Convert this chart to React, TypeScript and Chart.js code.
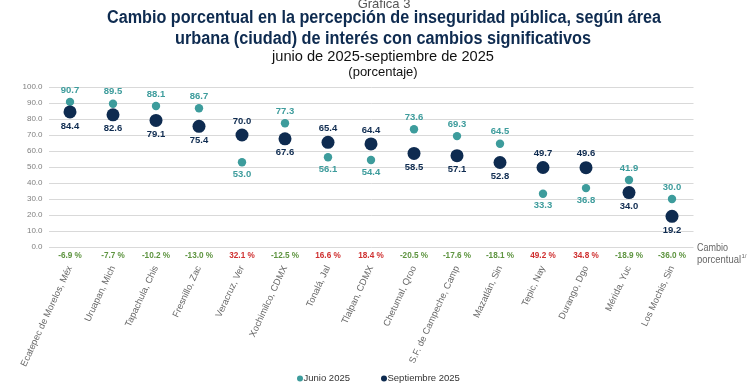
import React, { useEffect, useRef } from "react";
import { Chart, registerables } from "chart.js";

Chart.register(...registerables);

const categories = [
  "Ecatepec de Morelos, Méx",
  "Uruapan, Mich",
  "Tapachula, Chis",
  "Fresnillo, Zac",
  "Veracruz, Ver",
  "Xochimilco, CDMX",
  "Tonalá, Jal",
  "Tlalpan, CDMX",
  "Chetumal, Qroo",
  "S.F. de Campeche, Camp",
  "Mazatlán, Sin",
  "Tepic, Nay",
  "Durango, Dgo",
  "Mérida, Yuc",
  "Los Mochis, Sin",
];
const junio2025 = [90.7, 89.5, 88.1, 86.7, 53.0, 77.3, 56.1, 54.4, 73.6, 69.3, 64.5, 33.3, 36.8, 41.9, 30.0];
const septiembre2025 = [84.4, 82.6, 79.1, 75.4, 70.0, 67.6, 65.4, 64.4, 58.5, 57.1, 52.8, 49.7, 49.6, 34.0, 19.2];
const cambioPorcentual = [-6.9, -7.7, -10.2, -13.0, 32.1, -12.5, 16.6, 18.4, -20.5, -17.6, -18.1, 49.2, 34.8, -18.9, -36.0];

const titleGrafica = "Gráfica 3";
const titleLines = [
  "Cambio porcentual en la percepción de inseguridad pública, según área",
  "urbana (ciudad) de interés con cambios significativos",
];
const subtitle = "junio de 2025-septiembre de 2025";
const unitLabel = "(porcentaje)";
const seriesNames = ["Junio 2025", "Septiembre 2025"];
const yMin = 0;
const yMax = 100;
const yStep = 10;

const TEAL = "#3d9c9c";
const NAVY = "#0e2b50";
const GREEN = "#5e9440";
const RED = "#cf3030";
const FONT = "'Liberation Sans', Arial, sans-serif";

const overlayPlugin = {
  id: "overlay",
  afterDatasetsDraw(chart: any) {
    const ctx = chart.ctx;
    const x = chart.scales.x;
    const y = chart.scales.y;
    ctx.save();
    ctx.textAlign = "center";
    ctx.textBaseline = "middle";
    ctx.font = `bold 9.5px ${FONT}`;
    for (let i = 0; i < categories.length; i++) {
      const px = x.getPixelForValue(i);
      const j = junio2025[i];
      const s = septiembre2025[i];
      const jy = y.getPixelForValue(j);
      const sy = y.getPixelForValue(s);
      const jAbove = j >= s;
      ctx.fillStyle = TEAL;
      ctx.fillText(j.toFixed(1), px, jAbove ? jy - 12 : jy + 12);
      ctx.fillStyle = NAVY;
      ctx.fillText(s.toFixed(1), px, jAbove ? sy + 14 : sy - 14);
    }
    ctx.restore();
  },
  afterDraw(chart: any) {
    const ctx = chart.ctx;
    const x = chart.scales.x;
    const area = chart.chartArea;
    const cx = 384;
    ctx.save();
    ctx.textAlign = "center";
    ctx.textBaseline = "alphabetic";
    ctx.fillStyle = "#555555";
    ctx.font = `13px ${FONT}`;
    ctx.fillText(titleGrafica, cx, 8, 58);
    ctx.textBaseline = "middle";
    ctx.fillStyle = NAVY;
    ctx.font = `bold 18px ${FONT}`;
    ctx.fillText(titleLines[0], cx, 18, 554);
    ctx.fillText(titleLines[1], cx - 1, 39, 416);
    ctx.fillStyle = "#111111";
    ctx.font = `15px ${FONT}`;
    ctx.fillText(subtitle, cx - 1, 57, 222);
    ctx.font = `13px ${FONT}`;
    ctx.fillText(unitLabel, cx - 1, 72, 71);

    // percent change row
    ctx.font = `bold 8.2px ${FONT}`;
    for (let i = 0; i < categories.length; i++) {
      const v = cambioPorcentual[i];
      ctx.fillStyle = v < 0 ? GREEN : RED;
      ctx.fillText(`${v.toFixed(1)} %`, x.getPixelForValue(i), area.bottom + 9);
    }

    // "Cambio porcentual" label
    ctx.textAlign = "left";
    ctx.fillStyle = "#666666";
    ctx.font = `10.5px ${FONT}`;
    const lx = area.right + 3.5;
    ctx.fillText("Cambio", lx, area.bottom + 1, 31);
    ctx.fillText("porcentual", lx, area.bottom + 13, 44);
    ctx.font = `6px ${FONT}`;
    ctx.fillText("1/", lx + 44.5, area.bottom + 9);

    // legend
    const ly = 378.5;
    const items = [
      { label: seriesNames[0], color: TEAL, x: 300 },
      { label: seriesNames[1], color: NAVY, x: 384 },
    ];
    ctx.font = `9.5px ${FONT}`;
    for (const it of items) {
      ctx.fillStyle = it.color;
      ctx.beginPath();
      ctx.arc(it.x, ly, 3, 0, Math.PI * 2);
      ctx.fill();
      ctx.fillStyle = "#333333";
      ctx.fillText(it.label, it.x + 3.5, ly);
    }
    ctx.restore();
  },
};

export default function App() {
  const ref = useRef<HTMLCanvasElement | null>(null);
  useEffect(() => {
    if (!ref.current) return;
    Chart.defaults.font.family = FONT;
    const chart = new Chart(ref.current, {
      type: "line",
      data: {
        labels: categories,
        datasets: [
          {
            label: seriesNames[0],
            data: junio2025,
            showLine: false,
            pointRadius: 4.2,
            pointHoverRadius: 4.2,
            pointBackgroundColor: TEAL,
            pointBorderWidth: 0,
            borderColor: TEAL,
            backgroundColor: TEAL,
            order: 1,
          },
          {
            label: seriesNames[1],
            data: septiembre2025,
            showLine: false,
            pointRadius: 6.5,
            pointHoverRadius: 6.5,
            pointBackgroundColor: NAVY,
            pointBorderWidth: 0,
            borderColor: NAVY,
            backgroundColor: NAVY,
            order: 0,
          },
        ],
      },
      options: {
        animation: false,
        responsive: true,
        maintainAspectRatio: false,
        layout: { padding: { top: 87, right: 56.5, bottom: 0, left: 0 } },
        plugins: {
          legend: { display: false },
          tooltip: { enabled: false },
          title: { display: false },
        },
        scales: {
          x: {
            type: "category",
            offset: true,
            grid: { display: false, drawTicks: false },
            border: { display: false },
            ticks: {
              autoSkip: false,
              minRotation: 65,
              maxRotation: 65,
              padding: 17,
              color: "#666666",
              font: { size: 9.3, family: FONT },
            },
            afterFit: (s: any) => {
              s.height = 139;
            },
          },
          y: {
            min: yMin,
            max: yMax,
            grid: { color: "#d9d9d9", lineWidth: 1, drawTicks: false },
            border: { display: false },
            ticks: {
              stepSize: yStep,
              padding: 6,
              color: "#7f7f7f",
              font: { size: 8, family: FONT },
              callback: (v: any) => Number(v).toFixed(1),
            },
            afterFit: (s: any) => {
              s.width = 48.5;
            },
          },
        },
      },
      plugins: [overlayPlugin],
    });
    return () => chart.destroy();
  }, []);
  return (
    <div style={{ position: "absolute", left: 0, top: 0, width: 750, height: 386, background: "#ffffff" }}>
      <canvas ref={ref} />
    </div>
  );
}
